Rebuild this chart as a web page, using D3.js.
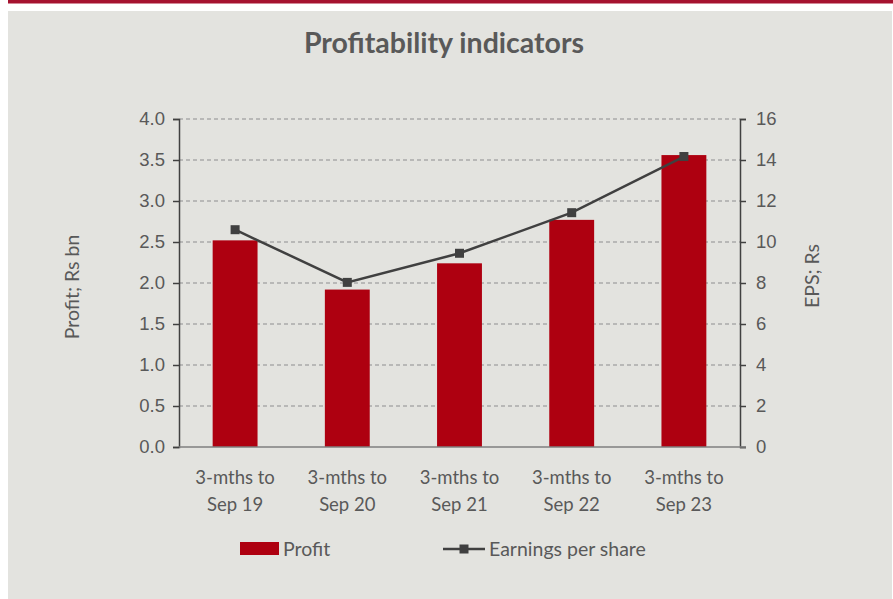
<!DOCTYPE html>
<html>
<head>
<meta charset="utf-8">
<script src="https://cdn.jsdelivr.net/npm/d3@7"></script>
<style>
  body { margin: 0; background: #fff; }
  svg { display: block; font-family: Lato, 'Open Sans', sans-serif; }
</style>
</head>
<body>
<div id="chart"></div>
<script>
const categories = ['Sep 19', 'Sep 20', 'Sep 21', 'Sep 22', 'Sep 23']
const profit = [2.52, 1.92, 2.24, 2.77, 3.56]
const eps = [10.6, 8.03, 9.45, 11.43, 14.17]
const leftTicks = [0, 0.5, 1, 1.5, 2, 2.5, 3, 3.5, 4]
const rightTicks = [0, 2, 4, 6, 8, 10, 12, 14, 16]

const width = 893, height = 599
const margin = {top: 119, right: 153, bottom: 152, left: 179}
const textColor = '#595959', axisColor = '#404040'

const svg = d3.select('#chart').append('svg')
  .attr('width', width)
  .attr('height', height)

// page frame: red band and grey panel
svg.append('rect').attr('x', 8).attr('y', 0).attr('width', width - 8).attr('height', 3.5).attr('fill', '#A5122F')
svg.append('rect').attr('x', 8).attr('y', 11).attr('width', width - 9).attr('height', height - 11).attr('fill', '#E3E3DF')

svg.append('text')
  .attr('x', 444).attr('y', 53)
  .attr('text-anchor', 'middle')
  .attr('fill', textColor)
  .style('font-size', '28.5px')
  .style('font-weight', 'bold')
  .text('Profitability indicators')

const x = d3.scaleBand()
  .domain(categories)
  .range([margin.left, width - margin.right])
  .paddingInner(0.6)
  .paddingOuter(0.3)
const yL = d3.scaleLinear().domain([0, 4]).range([height - margin.bottom, margin.top])
const yR = d3.scaleLinear().domain([0, 16]).range([height - margin.bottom, margin.top])

// dashed gridlines
svg.append('g')
  .selectAll('line')
  .data(leftTicks.slice(1))
  .enter().append('line')
  .attr('x1', margin.left).attr('x2', width - margin.right)
  .attr('y1', d => yL(d)).attr('y2', d => yL(d))
  .attr('stroke', '#ABABAB')
  .attr('stroke-width', 1.3)
  .attr('stroke-dasharray', '4,3')

// bars
svg.append('g')
  .selectAll('rect')
  .data(profit)
  .enter().append('rect')
  .attr('x', (d, i) => x(categories[i]))
  .attr('width', x.bandwidth())
  .attr('y', d => yL(d))
  .attr('height', d => yL(0) - yL(d))
  .attr('fill', '#AE0010')

// left axis
const gl = svg.append('g')
  .attr('transform', `translate(${margin.left},0)`)
  .call(d3.axisLeft(yL).tickValues(leftTicks).tickFormat(d3.format('.1f')).tickSize(6).tickPadding(8))
gl.select('.domain').attr('stroke', axisColor).attr('stroke-width', 1.5)
gl.selectAll('.tick line').attr('stroke', axisColor).attr('stroke-width', 1.5)
gl.selectAll('text').attr('fill', textColor).style('font-size', '18.5px')

// right axis
const gr = svg.append('g')
  .attr('transform', `translate(${width - margin.right},0)`)
  .call(d3.axisRight(yR).tickValues(rightTicks).tickSize(6).tickPadding(10))
gr.select('.domain').attr('stroke', axisColor).attr('stroke-width', 1.5)
gr.selectAll('.tick line').attr('stroke', axisColor).attr('stroke-width', 1.5)
gr.selectAll('text').attr('fill', textColor).style('font-size', '18.5px')

// bottom axis line
svg.append('line')
  .attr('x1', margin.left).attr('x2', width - margin.right + 6)
  .attr('y1', yL(0)).attr('y2', yL(0))
  .attr('stroke', '#7f7f7f').attr('stroke-width', 1.5)

// category labels
const xl = svg.append('g')
  .selectAll('text')
  .data(categories)
  .enter().append('text')
  .attr('x', d => x(d) + x.bandwidth() / 2)
  .attr('text-anchor', 'middle')
  .attr('fill', textColor)
  .style('font-size', '18.5px')
xl.append('tspan').attr('x', d => x(d) + x.bandwidth() / 2).attr('y', 484).text('3-mths to')
xl.append('tspan').attr('x', d => x(d) + x.bandwidth() / 2).attr('y', 511).text(d => d)

// EPS line
const line = d3.line()
  .x((d, i) => x(categories[i]) + x.bandwidth() / 2)
  .y(d => yR(d))
svg.append('path')
  .datum(eps)
  .attr('d', line)
  .attr('fill', 'none')
  .attr('stroke', axisColor)
  .attr('stroke-width', 2.5)
svg.append('g')
  .selectAll('rect')
  .data(eps)
  .enter().append('rect')
  .attr('x', (d, i) => x(categories[i]) + x.bandwidth() / 2 - 4.5)
  .attr('y', d => yR(d) - 4.5)
  .attr('width', 9).attr('height', 9)
  .attr('fill', axisColor)

// axis titles
svg.append('text')
  .attr('transform', 'translate(79,287) rotate(-90)')
  .attr('text-anchor', 'middle')
  .attr('fill', textColor)
  .style('font-size', '19.5px')
  .text('Profit; Rs bn')
svg.append('text')
  .attr('transform', 'translate(819,276) rotate(-90)')
  .attr('text-anchor', 'middle')
  .attr('fill', textColor)
  .style('font-size', '19.5px')
  .text('EPS; Rs')

// legend
const leg = svg.append('g')
leg.append('rect').attr('x', 240).attr('y', 542).attr('width', 39).attr('height', 13).attr('fill', '#AE0010')
leg.append('text').attr('x', 283).attr('y', 556).attr('fill', textColor).style('font-size', '19.5px').text('Profit')
leg.append('line').attr('x1', 443).attr('x2', 485).attr('y1', 549).attr('y2', 549).attr('stroke', axisColor).attr('stroke-width', 2.5)
leg.append('rect').attr('x', 459.5).attr('y', 544.5).attr('width', 9).attr('height', 9).attr('fill', axisColor)
leg.append('text').attr('x', 489).attr('y', 556).attr('fill', textColor).style('font-size', '19.5px').text('Earnings per share')
</script>
</body>
</html>
